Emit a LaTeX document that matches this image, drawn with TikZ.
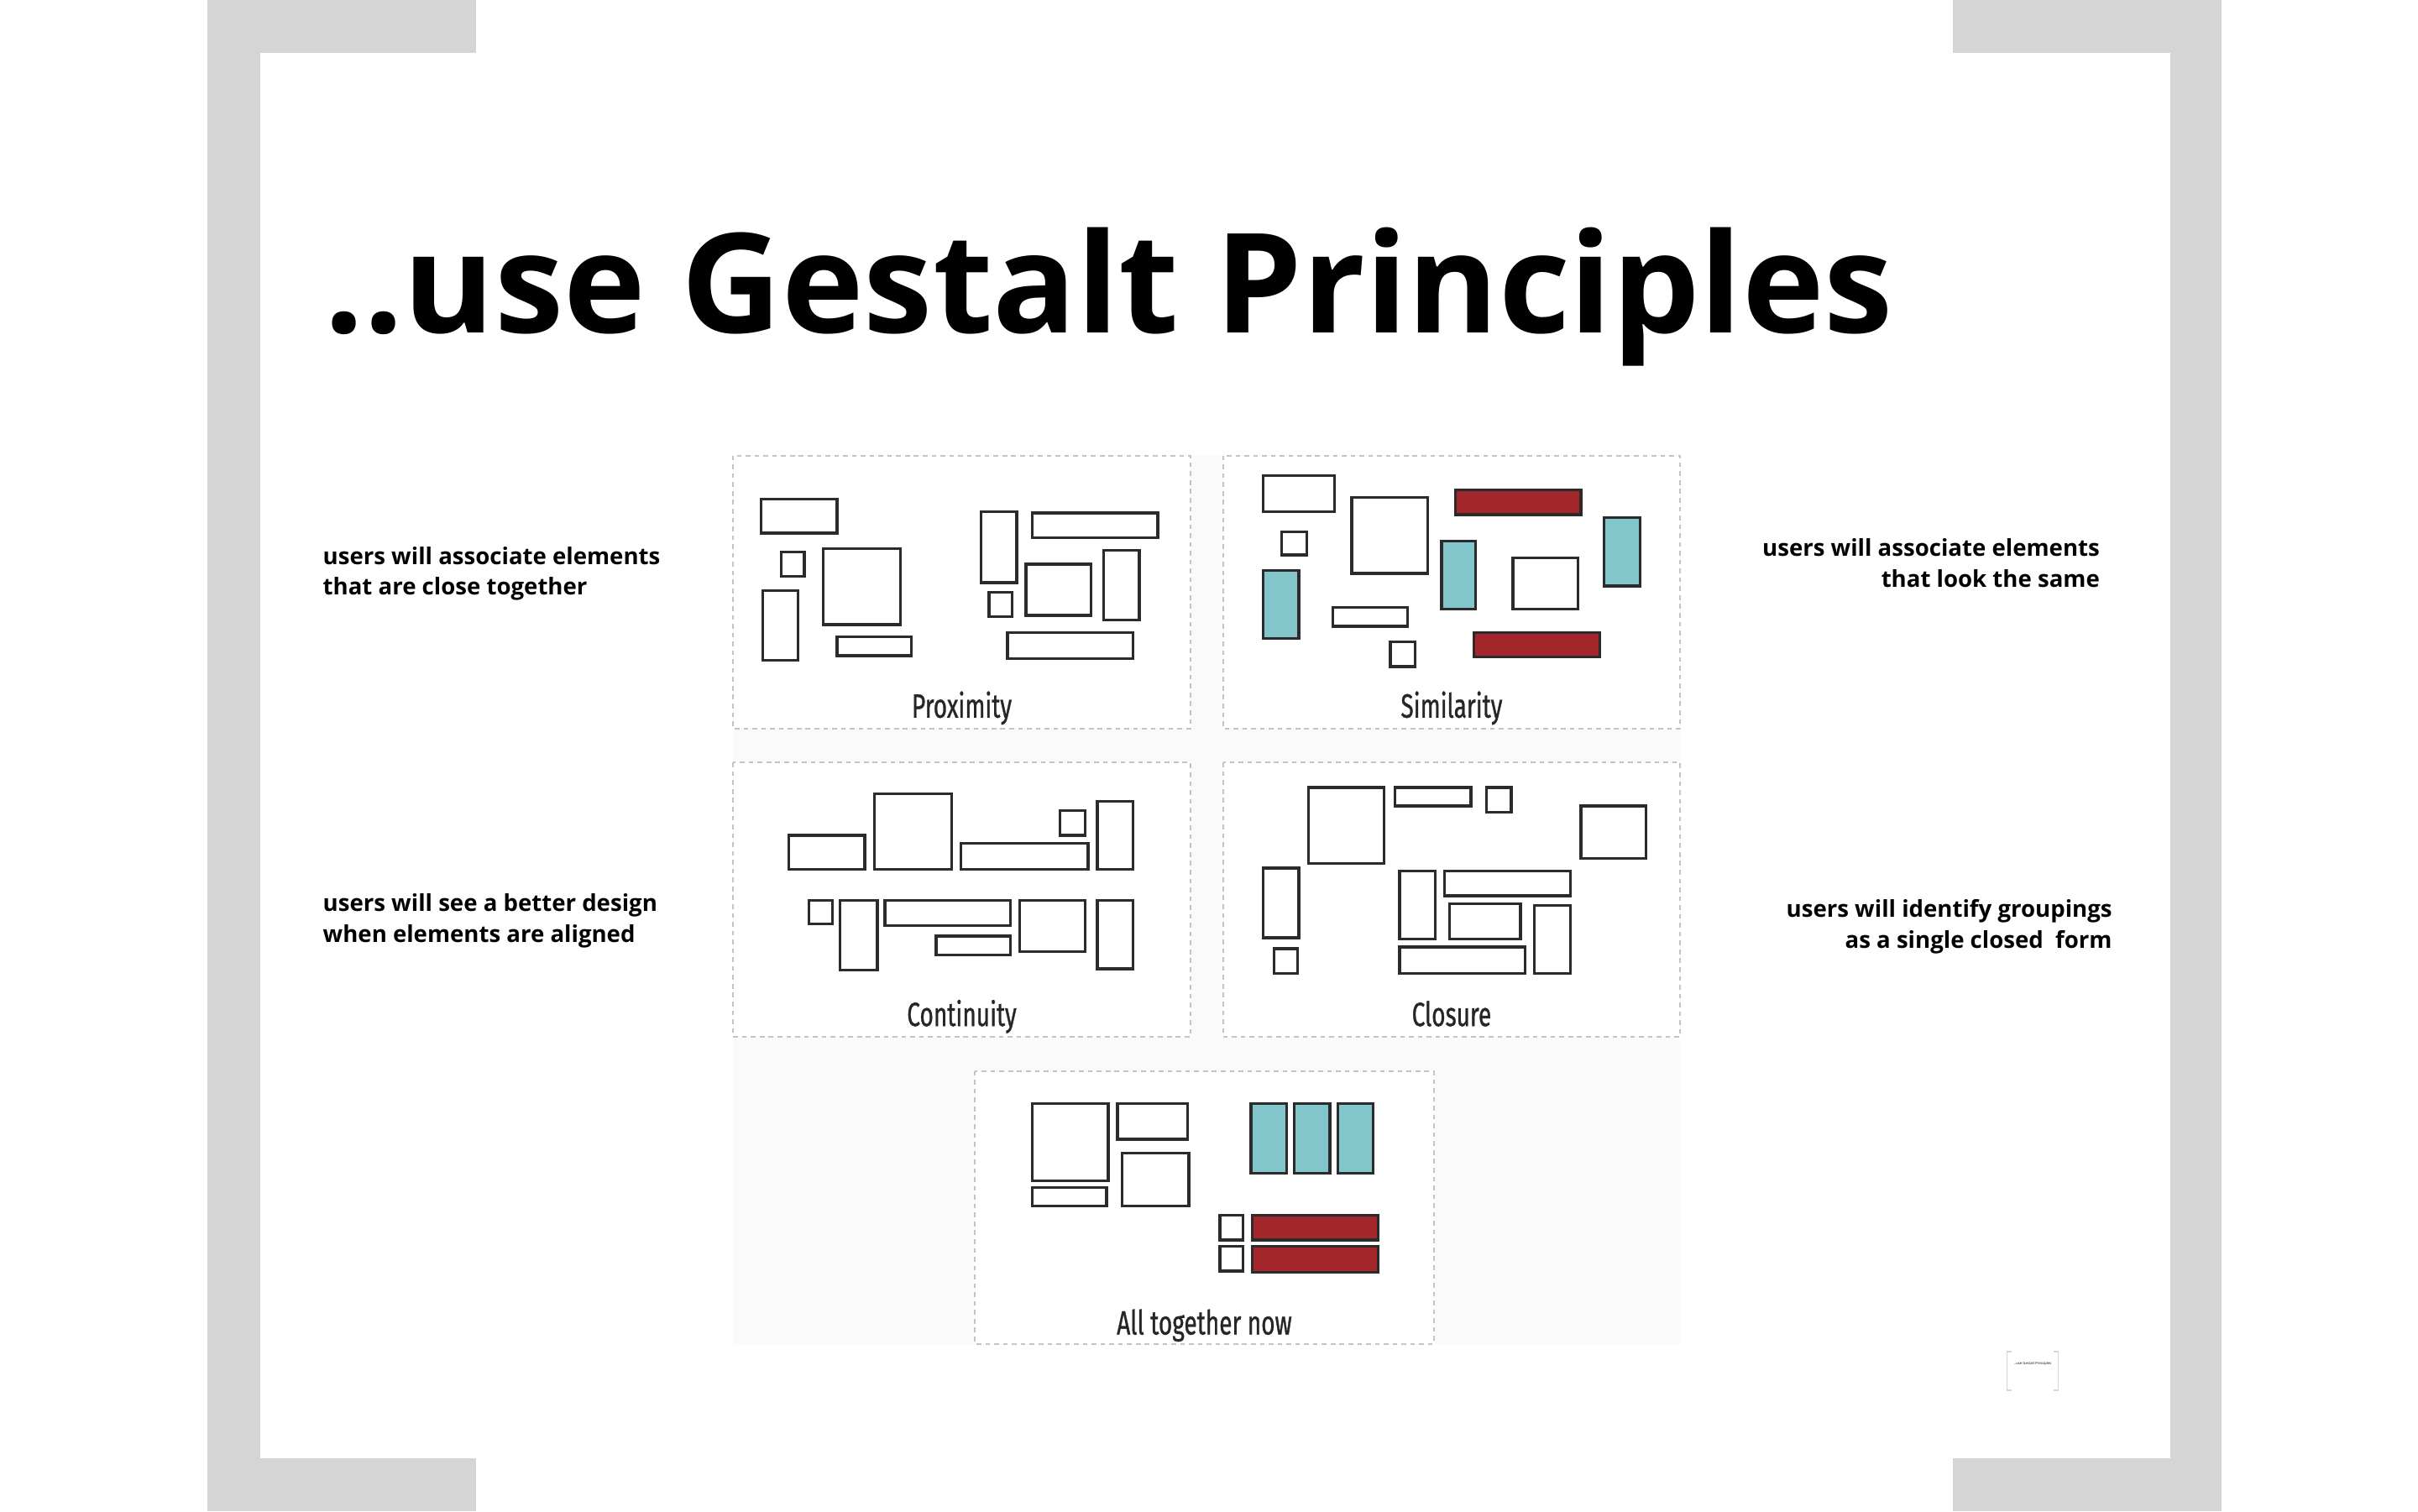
\documentclass[tikz,border=0pt]{standalone}
\usepackage{fontspec}
\setmainfont{Open Sans}
\newfontfamily\capfont{Fira Sans}[FakeStretch=0.7, FakeBold=0.8]
\usepackage{tikz}
\definecolor{framegray}{HTML}{D6D5D6}
\definecolor{panebg}{HTML}{FAFAFA}
\definecolor{dashgray}{HTML}{C4C4C4}
\definecolor{boxline}{HTML}{2B2B2B}
\definecolor{simred}{HTML}{A3272A}
\definecolor{simteal}{HTML}{82C6CC}

\begin{document}
\begin{tikzpicture}[x=0.018462cm, y=-0.018462cm,
    frm/.style = {fill=framegray},
    pane/.style = {draw=dashgray, line width=0.5pt, dash pattern=on 1.6pt off 1.4pt, fill=white},
    blk/.style = {draw=boxline, line width=0.95pt, fill=white},
    tealblk/.style = {blk, fill=simteal},
    redblk/.style = {blk, fill=simred},
    note/.style = {inner sep=0pt, font=\fontsize{7.85pt}{10pt}\selectfont\bfseries},
    panetitle/.style = {inner sep=0pt, anchor=base, font=\capfont\fontsize{11.4pt}{13pt}\selectfont, color=black!85}]
    \useasboundingbox (0,0) rectangle (1560,975);
    % frame corners
    \fill[frm] (134,0) rectangle (168,975);
    \fill[frm] (1400,0) rectangle (1433,975);
    \fill[frm] (134,0) rectangle (307,34);
    \fill[frm] (134,941) rectangle (307,975);
    \fill[frm] (1260,0) rectangle (1433,34);
    \fill[frm] (1260,941) rectangle (1433,975);

    \node[inner sep=0pt, anchor=base west, font=\fontsize{47pt}{56pt}\selectfont\bfseries] (title) at (209,215) {..use Gestalt Principles};

    % notes left and right
    \node[note, anchor=base west] (proxa) at (208,364) {users will associate elements};
    \node[note, anchor=base west] (proxb) at (208,384) {that are close together};
    \node[note, anchor=base west] (conta) at (208,588) {users will see a better design};
    \node[note, anchor=base west] (contb) at (208,608) {when elements are aligned};
    \node[note, anchor=base east] (sima) at (1355,359) {users will associate elements};
    \node[note, anchor=base east] (simb) at (1355,379) {that look the same};
    \node[note, anchor=base east] (closa) at (1363,592) {users will identify groupings};
    \node[note, anchor=base east] (closb) at (1363,612) {as a single closed\ \ form};

    % panels
    \fill[panebg] (473,294) rectangle (1084,867);
    \draw[pane] (473,294) rectangle (768,470);
    \draw[pane] (789,294) rectangle (1084,470);
    \draw[pane] (473,492) rectangle (768,669);
    \draw[pane] (789,492) rectangle (1084,669);
    \draw[pane] (629,691) rectangle (925,867);
    \node[panetitle] (proxlab) at (620.5,463) {Proximity};
    \node[panetitle] (simlab) at (936.5,463) {Similarity};
    \node[panetitle] (contlab) at (620.5,662) {Continuity};
    \node[panetitle] (closlab) at (936.5,662) {Closure};
    \node[panetitle] (alllab) at (777,861) {All together now};

    % proximity
    \draw[blk] (491,322) rectangle (540,344);
    \draw[blk] (504,356) rectangle (519,372);
    \draw[blk] (531,354) rectangle (581,403);
    \draw[blk] (492,381) rectangle (515,426);
    \draw[blk] (540,411) rectangle (588,423);
    \draw[blk] (633,330) rectangle (656,376);
    \draw[blk] (666,331) rectangle (747,347);
    \draw[blk] (662,364) rectangle (704,397);
    \draw[blk] (638,382) rectangle (653,398);
    \draw[blk] (712,355) rectangle (735,400);
    \draw[blk] (650,408) rectangle (731,425);

    % similarity
    \draw[blk] (815,307) rectangle (861,330);
    \draw[blk] (827,343) rectangle (843,358);
    \draw[blk] (872,321) rectangle (921,370);
    \draw[redblk] (939,316) rectangle (1020,332);
    \draw[tealblk] (1035,334) rectangle (1058,378);
    \draw[tealblk] (930,349) rectangle (952,393);
    \draw[blk] (976,360) rectangle (1018,393);
    \draw[tealblk] (815,368) rectangle (838,412);
    \draw[blk] (860,392) rectangle (908,404);
    \draw[blk] (897,414) rectangle (913,430);
    \draw[redblk] (951,408) rectangle (1032,424);

    % continuity
    \draw[blk] (509,539) rectangle (558,561);
    \draw[blk] (564,512) rectangle (614,561);
    \draw[blk] (620,544) rectangle (702,561);
    \draw[blk] (684,523) rectangle (700,539);
    \draw[blk] (708,517) rectangle (731,561);
    \draw[blk] (522,581) rectangle (537,596);
    \draw[blk] (542,581) rectangle (566,626);
    \draw[blk] (571,581) rectangle (652,597);
    \draw[blk] (604,604) rectangle (652,616);
    \draw[blk] (658,581) rectangle (700,614);
    \draw[blk] (708,581) rectangle (731,625);

    % closure
    \draw[blk] (844,508) rectangle (893,557);
    \draw[blk] (900,508) rectangle (949,520);
    \draw[blk] (959,508) rectangle (975,524);
    \draw[blk] (1020,520) rectangle (1062,554);
    \draw[blk] (815,560) rectangle (838,605);
    \draw[blk] (822,612) rectangle (837,628);
    \draw[blk] (903,562) rectangle (926,606);
    \draw[blk] (932,562) rectangle (1013,578);
    \draw[blk] (935,583) rectangle (981,606);
    \draw[blk] (990,584) rectangle (1013,628);
    \draw[blk] (903,611) rectangle (984,628);

    % all together
    \draw[blk] (666,712) rectangle (715,762);
    \draw[blk] (721,712) rectangle (766,735);
    \draw[blk] (724,744) rectangle (767,778);
    \draw[blk] (666,766) rectangle (714,778);
    \draw[tealblk] (807,712) rectangle (830,757);
    \draw[tealblk] (835,712) rectangle (858,757);
    \draw[tealblk] (863,712) rectangle (886,757);
    \draw[blk] (787,784) rectangle (802,800);
    \draw[blk] (787,804) rectangle (802,820);
    \draw[redblk] (808,784) rectangle (889,800);
    \draw[redblk] (808,804) rectangle (889,821);

    % thumbnail
    \fill[white] (1295,872) rectangle (1328,897);
    \draw[framegray, line width=0.4pt] (1298,872) -- (1295,872) -- (1295,897) -- (1298,897);
    \draw[framegray, line width=0.4pt] (1325,872) -- (1328,872) -- (1328,897) -- (1325,897);
    \node[inner sep=0pt, font=\fontsize{1.2pt}{1.4pt}\selectfont] (thumb) at (1311.5,880) {..use Gestalt Principles};
\end{tikzpicture}
\end{document}
